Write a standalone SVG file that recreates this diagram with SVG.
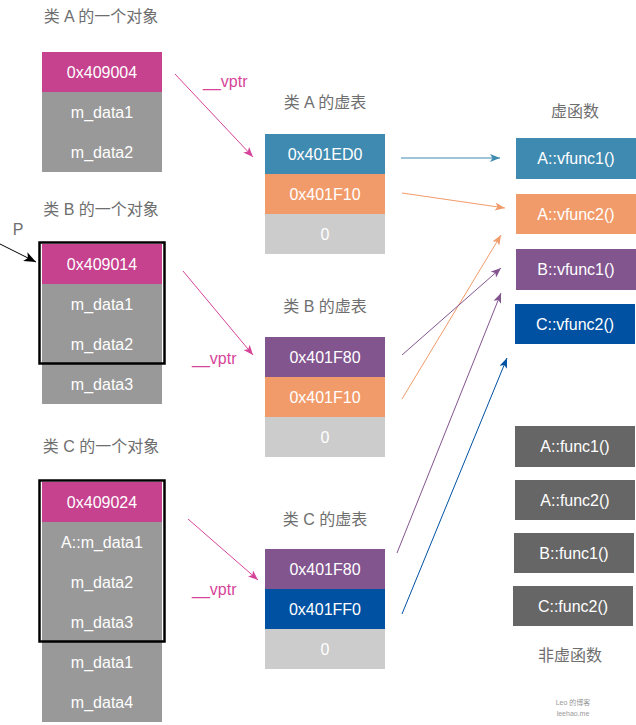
<svg xmlns="http://www.w3.org/2000/svg" width="636" height="725" viewBox="0 0 636 725">
<style>
text{font-family:"Liberation Sans","Noto Sans CJK SC",sans-serif}
.t{font-size:16px;fill:#6e6e6e;text-anchor:middle}
.c{font-size:16px;fill:#fff;text-anchor:middle}
.v{font-size:16px;fill:#d6449a}
.mg{fill:#c6418e}.gy{fill:#999}.lg{fill:#ccc}.bl{fill:#3f8ab1}.or{fill:#f29b6a}.pu{fill:#82558f}.db{fill:#0051a2}.dg{fill:#666}
.frame{fill:none;stroke:#000;stroke-width:2.5}
.ln{fill:none;stroke-width:1}
</style>
<defs>
<marker id="am" viewBox="0 0 10 8" refX="10" refY="4" markerWidth="11" markerHeight="8" markerUnits="userSpaceOnUse" orient="auto"><path d="M0,0L10,4L0,8L2.5,4z" fill="#d6449a"/></marker>
<marker id="ab" viewBox="0 0 10 8" refX="10" refY="4" markerWidth="11" markerHeight="8" markerUnits="userSpaceOnUse" orient="auto"><path d="M0,0L10,4L0,8L2.5,4z" fill="#3f8ab1"/></marker>
<marker id="ao" viewBox="0 0 10 8" refX="10" refY="4" markerWidth="11" markerHeight="8" markerUnits="userSpaceOnUse" orient="auto"><path d="M0,0L10,4L0,8L2.5,4z" fill="#f29b6a"/></marker>
<marker id="ap" viewBox="0 0 10 8" refX="10" refY="4" markerWidth="11" markerHeight="8" markerUnits="userSpaceOnUse" orient="auto"><path d="M0,0L10,4L0,8L2.5,4z" fill="#82558f"/></marker>
<marker id="ad" viewBox="0 0 10 8" refX="10" refY="4" markerWidth="11" markerHeight="8" markerUnits="userSpaceOnUse" orient="auto"><path d="M0,0L10,4L0,8L2.5,4z" fill="#0051a2"/></marker>
<marker id="ak" viewBox="0 0 10 8" refX="10" refY="4" markerWidth="12" markerHeight="10" markerUnits="userSpaceOnUse" orient="auto"><path d="M0,0L10,4L0,8L2.5,4z" fill="#000"/></marker>
</defs>

<g id="objA">
<text class="t" x="101" y="22">类 A 的一个对象</text>
<rect class="mg" x="42" y="52" width="120" height="40"/>
<rect class="gy" x="42" y="92" width="120" height="80"/>
<text class="c" x="102" y="78">0x409004</text>
<text class="c" x="102" y="118">m_data1</text>
<text class="c" x="102" y="158">m_data2</text>
</g>

<g id="objB">
<text class="t" x="101" y="215">类 B 的一个对象</text>
<rect class="mg" x="42" y="244" width="120" height="40"/>
<rect class="gy" x="42" y="284" width="120" height="120"/>
<rect class="frame" x="39.5" y="242.5" width="125" height="121"/>
<text class="c" x="102" y="270">0x409014</text>
<text class="c" x="102" y="310">m_data1</text>
<text class="c" x="102" y="350">m_data2</text>
<text class="c" x="102" y="390">m_data3</text>
</g>

<g id="objC">
<text class="t" x="101" y="452">类 C 的一个对象</text>
<rect class="mg" x="42" y="482" width="120" height="40"/>
<rect class="gy" x="42" y="522" width="120" height="200"/>
<rect class="frame" x="39.5" y="480.5" width="125" height="161"/>
<text class="c" x="102" y="508">0x409024</text>
<text class="c" x="102" y="548">A::m_data1</text>
<text class="c" x="102" y="588">m_data2</text>
<text class="c" x="102" y="628">m_data3</text>
<text class="c" x="102" y="668">m_data1</text>
<text class="c" x="102" y="708">m_data4</text>
</g>

<g id="P">
<text class="t" x="18" y="235">P</text>
</g>

<g id="vtA">
<text class="t" x="325" y="108">类 A 的虚表</text>
<rect class="bl" x="265" y="134" width="120" height="40"/>
<rect class="or" x="265" y="174" width="120" height="40"/>
<rect class="lg" x="265" y="214" width="120" height="40"/>
<text class="c" x="325" y="160">0x401ED0</text>
<text class="c" x="325" y="200">0x401F10</text>
<text class="c" x="325" y="240">0</text>
</g>

<g id="vtB">
<text class="t" x="325" y="312">类 B 的虚表</text>
<rect class="pu" x="265" y="337" width="120" height="40"/>
<rect class="or" x="265" y="377" width="120" height="40"/>
<rect class="lg" x="265" y="417" width="120" height="40"/>
<text class="c" x="325" y="363">0x401F80</text>
<text class="c" x="325" y="403">0x401F10</text>
<text class="c" x="325" y="443">0</text>
</g>

<g id="vtC">
<text class="t" x="325" y="525">类 C 的虚表</text>
<rect class="pu" x="265" y="549" width="120" height="40"/>
<rect class="db" x="265" y="589" width="120" height="40"/>
<rect class="lg" x="265" y="629" width="120" height="40"/>
<text class="c" x="325" y="575">0x401F80</text>
<text class="c" x="325" y="615">0x401FF0</text>
<text class="c" x="325" y="655">0</text>
</g>

<g id="vfuncs">
<text class="t" x="575" y="117">虚函数</text>
</g>
<g id="Avfunc1"><rect class="bl" x="516" y="138" width="120" height="41"/><text class="c" x="576" y="164">A::vfunc1()</text></g>
<g id="Avfunc2"><rect class="or" x="516" y="194" width="120" height="40"/><text class="c" x="576" y="220">A::vfunc2()</text></g>
<g id="Bvfunc1"><rect class="pu" x="516" y="249" width="120" height="41"/><text class="c" x="576" y="275">B::vfunc1()</text></g>
<g id="Cvfunc2"><rect class="db" x="515" y="304" width="120" height="40"/><text class="c" x="575" y="330">C::vfunc2()</text></g>

<g id="Afunc1"><rect class="dg" x="515" y="426" width="120" height="41"/><text class="c" x="575" y="452">A::func1()</text></g>
<g id="Afunc2"><rect class="dg" x="515" y="480" width="120" height="40"/><text class="c" x="575" y="506">A::func2()</text></g>
<g id="Bfunc1"><rect class="dg" x="514" y="533" width="120" height="40"/><text class="c" x="574" y="559">B::func1()</text></g>
<g id="Cfunc2"><rect class="dg" x="513" y="586" width="120" height="40"/><text class="c" x="573" y="612">C::func2()</text></g>
<g id="nonvirt">
<text class="t" x="570" y="661">非虚函数</text>
</g>

<g id="connectors">
<line class="ln" x1="0" y1="244" x2="36" y2="262" stroke="#000" stroke-width="2" marker-end="url(#ak)"/>
<line class="ln" x1="175" y1="74" x2="253" y2="157" stroke="#d6449a" marker-end="url(#am)"/>
<line class="ln" x1="183" y1="271" x2="253" y2="355" stroke="#d6449a" marker-end="url(#am)"/>
<line class="ln" x1="188" y1="519" x2="258" y2="580" stroke="#d6449a" marker-end="url(#am)"/>
<text class="v" x="203" y="87">__vptr</text>
<text class="v" x="192" y="364">__vptr</text>
<text class="v" x="192" y="595">__vptr</text>
<line class="ln" x1="401" y1="158" x2="500" y2="158" stroke="#3f8ab1" marker-end="url(#ab)"/>
<line class="ln" x1="402" y1="193" x2="505" y2="208" stroke="#f29b6a" marker-end="url(#ao)"/>
<line class="ln" x1="402" y1="399" x2="501" y2="235" stroke="#f29b6a" marker-end="url(#ao)"/>
<line class="ln" x1="402" y1="355" x2="501" y2="268" stroke="#82558f" marker-end="url(#ap)"/>
<line class="ln" x1="397" y1="553" x2="501" y2="293" stroke="#82558f" marker-end="url(#ap)"/>
<line class="ln" x1="402" y1="614" x2="507" y2="358" stroke="#0051a2" marker-end="url(#ad)"/>
</g>

<g id="watermark">
<text x="573" y="705" style="font-size:7px;fill:#999;text-anchor:middle">Leo 的博客</text>
<text x="573" y="716" style="font-size:7px;fill:#999;text-anchor:middle">leehao.me</text>
</g>
</svg>
